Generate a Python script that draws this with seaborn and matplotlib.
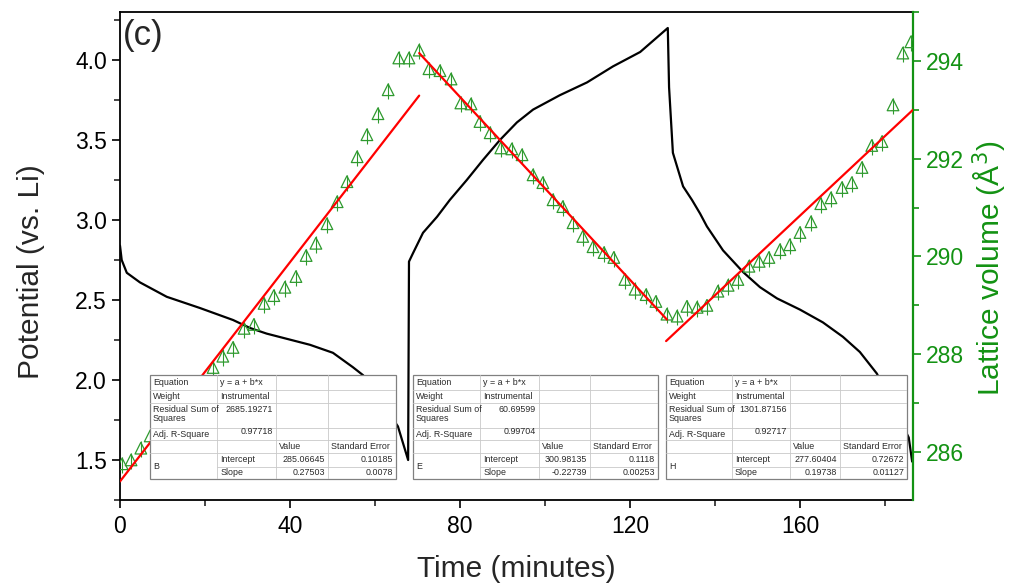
import matplotlib
matplotlib.use("Agg")
import matplotlib.pyplot as plt
from matplotlib.patches import Rectangle
from matplotlib.ticker import MultipleLocator
import seaborn as sns
import pandas as pd

# ---------------- data ----------------
# Potential curve (left axis)
pot_time = [0.0, 0.4, 1.6, 4.7, 11.0, 18.8, 26.6, 30.6, 34.5, 44.7, 50.1, 54.8, 57.2, 65.4, 67.8,
            68.0, 68.9, 71.3, 74.6, 77.6, 81.6, 85.4, 89.4, 93.4, 97.2, 103.5, 109.9, 116.0, 122.4, 128.9,
            129.2, 130.1, 132.5, 134.6, 136.5, 138.1, 141.9, 146.6, 150.6, 154.6, 160.0, 165.4, 170.1,
            174.1, 178.1, 185.6, 186.4]
pot_volt = [2.84, 2.75, 2.67, 2.61, 2.52, 2.45, 2.375, 2.325, 2.29, 2.22, 2.17, 2.08, 2.03, 1.71, 1.50,
            2.74, 2.79, 2.92, 3.02, 3.125, 3.25, 3.375, 3.50, 3.61, 3.69, 3.78, 3.86, 3.96, 4.05, 4.20,
            3.83, 3.42, 3.21, 3.125, 3.04, 2.96, 2.81, 2.675, 2.58, 2.51, 2.44, 2.36, 2.27,
            2.175, 2.04, 1.64, 1.49]

# Lattice volume points (right axis)
vol_time = [0.5, 2.6, 4.9, 7.1, 21.9, 24.2, 26.6, 29.2, 31.5, 33.9, 36.2, 38.8, 41.4, 43.8, 46.1,
            48.7, 51.1, 53.4, 55.8, 58.1, 60.7, 63.1, 65.6, 68.0, 70.4,
            72.7, 75.3, 77.9, 80.2, 82.6, 84.7, 87.1, 89.6, 92.2, 94.6, 97.2, 99.5, 101.9, 104.2,
            106.6, 108.9, 111.3, 113.9, 116.2, 118.8, 121.2, 123.8, 126.1, 128.7, 131.1,
            133.4, 135.8, 138.1, 140.7, 143.1, 145.4, 148.0, 150.4, 152.7, 155.3, 157.6, 160.0,
            162.6, 164.9, 167.3, 169.9, 172.2, 174.6, 176.9, 179.3, 181.9, 184.2, 186.1]
vol_value = [285.76, 285.84, 286.08, 286.33, 287.73, 287.96, 288.14, 288.53, 288.61, 289.04, 289.20,
             289.37, 289.59, 290.02, 290.27, 290.67, 291.12, 291.53, 292.04, 292.49, 292.92, 293.41,
             294.06, 294.06, 294.22,
             293.84, 293.80, 293.63, 293.14, 293.12, 292.76, 292.53, 292.22, 292.20, 292.08, 291.67,
             291.51, 291.16, 291.02, 290.69, 290.41, 290.20, 290.08, 289.98, 289.53, 289.33, 289.22,
             289.08, 288.82, 288.78,
             288.98, 288.96, 289.00, 289.29, 289.41, 289.53, 289.80, 289.90, 289.98, 290.14, 290.24,
             290.49, 290.71, 291.08, 291.20, 291.41, 291.51, 291.82, 292.27, 292.35, 293.10, 294.16,
             294.39]

# Linear fit lines (start/end)
fit_time = [[0.0, 70.4], [70.4, 128.7], [128.5, 186.6]]
fit_value = [[285.40, 293.29], [294.16, 288.71], [288.27, 293.00]]

# Fit tables
tbl_name = ["B", "E", "H"]
tbl_rss = ["2685.19271", "60.69599", "1301.87156"]
tbl_r2 = ["0.97718", "0.99704", "0.92717"]
tbl_icpt = ["285.06645", "300.98135", "277.60404"]
tbl_icpt_err = ["0.10185", "0.1118", "0.72672"]
tbl_slope = ["0.27503", "-0.22739", "0.19738"]
tbl_slope_err = ["0.0078", "0.00253", "0.01127"]

x_ticks = [0, 40, 80, 120, 160]
left_ticks = [1.5, 2.0, 2.5, 3.0, 3.5, 4.0]
right_ticks = [286, 288, 290, 292, 294]

# ---------------- style ----------------
sns.set_style("ticks")
plt.rcParams["font.family"] = ["Liberation Sans", "DejaVu Sans"]
GREEN = "#139213"
MARK = "#2e9a2e"

W, H = 1010, 586
fig = plt.figure(figsize=(W / 100, H / 100), dpi=100)
L, R, T, B = 120, 913, 12, 500
ax = fig.add_axes([L / W, 1 - B / H, (R - L) / W, (B - T) / H])
ax2 = ax.twinx()

pot_df = pd.DataFrame({"t": pot_time, "v": pot_volt})
sns.lineplot(data=pot_df, x="t", y="v", ax=ax, color="black", lw=1.6, sort=False, estimator=None)

vol_df = pd.DataFrame({"t": vol_time, "v": vol_value})
ax2.errorbar(vol_time, vol_value, yerr=[[0.19] * len(vol_time), [0.14] * len(vol_time)],
             fmt="none", ecolor=MARK, elinewidth=0.8, capsize=0, zorder=2)
sns.scatterplot(data=vol_df, x="t", y="v", ax=ax2, marker="^", s=70, color=MARK,
                facecolor="none", edgecolor=MARK, linewidth=0.9, zorder=3)

for ft, fv in zip(fit_time, fit_value):
    sns.lineplot(x=ft, y=fv, ax=ax2, color="red", lw=1.6, zorder=4, estimator=None)

# axes limits & ticks
ax.set_xlim(0, 186.6)
ax.set_ylim(1.25, 4.30)
ax2.set_ylim(285.02, 295.0)
ax.set_xticks(x_ticks)
ax.set_yticks(left_ticks)
ax.set_yticklabels([f"{v:.1f}" for v in left_ticks])
ax2.set_yticks(right_ticks)
ax.xaxis.set_minor_locator(MultipleLocator(20))
ax.yaxis.set_minor_locator(MultipleLocator(0.25))
ax2.yaxis.set_minor_locator(MultipleLocator(1))

ax.tick_params(axis="both", which="major", direction="out", length=6, width=1.2,
               labelsize=16.5, colors="black")
ax.tick_params(axis="both", which="minor", direction="out", length=4, width=1.2)
ax.tick_params(axis="x", pad=5)
ax2.tick_params(axis="y", which="major", direction="out", length=6, width=1.2,
                labelsize=16.5, colors=GREEN)
ax2.tick_params(axis="y", which="minor", direction="out", length=4, width=1.2, colors=GREEN)

for s in ["left", "bottom", "top"]:
    ax.spines[s].set_color("black")
    ax.spines[s].set_linewidth(1.3)
ax.spines["right"].set_visible(False)
ax2.spines["right"].set_color(GREEN)
ax2.spines["right"].set_linewidth(1.6)
for s in ["left", "bottom", "top"]:
    ax2.spines[s].set_visible(False)

ax.set_xlabel("")
ax.set_ylabel("")
ax2.set_xlabel("")
ax2.set_ylabel("")
ax.grid(False)
ax2.grid(False)

ax.text(0.004, 0.985, "(c)", transform=ax.transAxes, ha="left", va="top", fontsize=25)

fig.text(516 / W, 1 - 569 / H, "Time (minutes)", ha="center", va="center", fontsize=21.5)
fig.text(31 / W, 1 - 272 / H, "Potential (vs. Li)", ha="center", va="center",
         rotation=90, fontsize=21.5)
fig.text(990 / W, 1 - 268 / H, "Lattice volume (Å$^3$)", ha="center", va="center",
         rotation=90, fontsize=21.5, color=GREEN)

# ---------------- fit tables ----------------
tbl_pos = [(150, 396), (413, 658), (666, 907)]
tbl_top, tbl_bot = 375, 479
cols = [0, 0.274, 0.513, 0.723, 1.0]
rows = [0, 0.145, 0.274, 0.506, 0.629, 0.752, 0.881, 1.0]
GRID = "#c9c9c9"
TXT = "#2a2a2a"
FS = 6.4

for i, (x0, x1) in enumerate(tbl_pos):
    tax = fig.add_axes([x0 / W, 1 - tbl_bot / H, (x1 - x0) / W, (tbl_bot - tbl_top) / H])
    tax.set_xlim(0, 1)
    tax.set_ylim(1, 0)
    tax.axis("off")
    tax.add_patch(Rectangle((0, 0), 1, 1, facecolor="white", edgecolor="#808080", lw=0.9,
                            transform=tax.transAxes, clip_on=False))
    for k, r in enumerate(rows[1:-1], start=1):
        xs = cols[1] if k == 6 else 0
        tax.plot([xs, 1], [r, r], color=GRID, lw=0.6)
    for c in cols[1:-1]:
        tax.plot([c, c], [0, 1], color=GRID, lw=0.6)

    def rc(row):
        return (rows[row] + rows[row + 1]) / 2

    pl, pr = 0.012, 0.012
    tax.text(cols[0] + pl, rc(0), "Equation", ha="left", va="center", fontsize=FS, color=TXT)
    tax.text(cols[1] + pl, rc(0), "y = a + b*x", ha="left", va="center", fontsize=FS, color=TXT)
    tax.text(cols[0] + pl, rc(1), "Weight", ha="left", va="center", fontsize=FS, color=TXT)
    tax.text(cols[1] + pl, rc(1), "Instrumental", ha="left", va="center", fontsize=FS, color=TXT)
    tax.text(cols[0] + pl, rows[2] + 0.015, "Residual Sum of\nSquares", ha="left", va="top",
             fontsize=FS, color=TXT, linespacing=1.05)
    tax.text(cols[2] - pr, rows[2] + 0.015, tbl_rss[i], ha="right", va="top", fontsize=FS, color=TXT)
    tax.text(cols[0] + pl, rc(3), "Adj. R-Square", ha="left", va="center", fontsize=FS, color=TXT)
    tax.text(cols[2] - pr, rc(3) - 0.02, tbl_r2[i], ha="right", va="center", fontsize=FS, color=TXT)
    tax.text(cols[2] + pl, rc(4), "Value", ha="left", va="center", fontsize=FS, color=TXT)
    tax.text(cols[3] + pl, rc(4), "Standard Error", ha="left", va="center", fontsize=FS, color=TXT)
    tax.text(cols[0] + pl, rows[6], tbl_name[i], ha="left", va="center", fontsize=FS, color=TXT)
    tax.text(cols[1] + pl, rc(5), "Intercept", ha="left", va="center", fontsize=FS, color=TXT)
    tax.text(cols[3] - pr, rc(5), tbl_icpt[i], ha="right", va="center", fontsize=FS, color=TXT)
    tax.text(cols[4] - pr, rc(5), tbl_icpt_err[i], ha="right", va="center", fontsize=FS, color=TXT)
    tax.text(cols[1] + pl, rc(6), "Slope", ha="left", va="center", fontsize=FS, color=TXT)
    tax.text(cols[3] - pr, rc(6), tbl_slope[i], ha="right", va="center", fontsize=FS, color=TXT)
    tax.text(cols[4] - pr, rc(6), tbl_slope_err[i], ha="right", va="center", fontsize=FS, color=TXT)

fig.savefig("out.png", dpi=100)
